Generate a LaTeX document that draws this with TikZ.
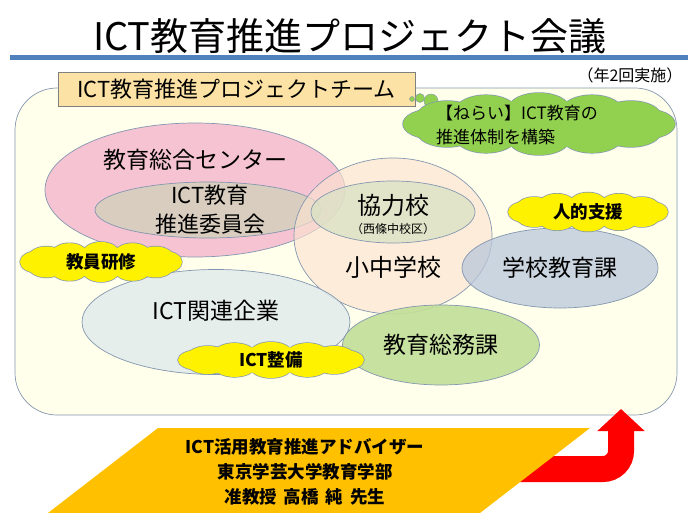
\documentclass[tikz,border=0pt]{standalone}
\usepackage{fontspec}
\setmainfont{Noto Sans CJK JP}
\usetikzlibrary{shapes.geometric,arrows.meta}

\definecolor{titleblue}{HTML}{4F81BD}
\definecolor{edgegray}{HTML}{8497B0}
\definecolor{fieldfill}{HTML}{FFFFEB}
\definecolor{labelorange}{HTML}{FCE2A4}
\definecolor{aimgreen}{HTML}{92D050}
\definecolor{centerpink}{HTML}{F6C3D3}
\definecolor{committeetan}{HTML}{D8CDBF}
\definecolor{schoolpeach}{HTML}{FBE3D0}
\definecolor{partnergreen}{HTML}{D9E2C4}
\definecolor{sectionblue}{HTML}{BAC7DB}
\definecolor{companyblue}{HTML}{E2ECEC}
\definecolor{affairsgreen}{HTML}{C2DF98}
\definecolor{advorange}{HTML}{FFC000}

% puffs round a centre: centre, a, b, x radius, y radius, angles, colour
\newcommand\cloudpuffs[7]{%
  \foreach \t in {#6}
    \draw [edgegray, line width=1.4pt] (#1) ++(\t:#2 and #3) ellipse [x radius=#4, y radius=#5];
  \foreach \t in {#6}
    \fill [#7] (#1) ++(\t:#2 and #3) ellipse [x radius=#4, y radius=#5];
  \fill [#7] (#1) ellipse [x radius=#2, y radius=#3+#5/2];
}

\tikzset{
  group/.style={ellipse, draw=edgegray, line width=0.7pt, inner sep=0pt,
    fill opacity=0.75, text opacity=1, align=center,
    font=\fontsize{23}{29}\selectfont},
  pufftext/.style={font=\bfseries\fontsize{17.5}{20}\selectfont},
  bubble/.style={circle, draw=edgegray, fill=aimgreen, inner sep=0pt}
}

\begin{document}
\begin{tikzpicture}[x=1pt, y=-1pt]
  \useasboundingbox (0,0) rectangle (688,513);

  % title
  \node (title) at (350,36) {\fontsize{38}{40}\selectfont ICT教育推進プロジェクト会議};
  \draw [titleblue, line width=5pt] (10,58) -- (688,58);

  % project team field
  \node [draw=edgegray, fill=fieldfill, rounded corners=42pt, line width=0.7pt,
    minimum width=662, minimum height=327] (field) at (346,251.5) {};
  \node (times) at (630,75) {\fontsize{16}{18}\selectfont （年2回実施）};
  \node [draw=gray, fill=labelorange, minimum width=357, minimum height=34,
    font=\fontsize{22}{24}\selectfont] (team) at (236.5,89) {ICT教育推進プロジェクトチーム};

  % aim
  \node [bubble, minimum size=5] (b1) at (412,99) {};
  \node [bubble, minimum size=9] (b2) at (420,98) {};
  \node [bubble, minimum size=14] (b3) at (431,101) {};
  \coordinate (aimc) at (539,124);
  \cloudpuffs{aimc}{106}{16}{30}{15}{0,30,...,330}{aimgreen}
  \node [align=left, font=\fontsize{17}{24}\selectfont] (aim) at (517,125)
    {【ねらい】ICT教育の\\推進体制を構築};

  % groups
  \node [group, fill=centerpink, fill opacity=1, minimum width=300, minimum height=134] (center) at (195,190) {};
  \node [font=\fontsize{23}{25}\selectfont] (centertext) at (195,160) {教育総合センター};
  \node [group, fill=committeetan, fill opacity=1, minimum width=226, minimum height=56] (committee) at (208,210) {};
  \node [align=center, font=\fontsize{22}{29}\selectfont] (committeetext) at (210,210) {ICT教育\\推進委員会};
  \node [group, fill=schoolpeach, fill opacity=0.65, minimum width=198, minimum height=156] (school) at (393,236) {};
  \node [group, fill=partnergreen, minimum width=164, minimum height=62] (partner) at (393,212) {};
  \node [font=\fontsize{24}{26}\selectfont] (partnertext) at (393,205) {協力校};
  \node [font=\fontsize{12}{14}\selectfont] (partnersub) at (393,229) {（西條中校区）};
  \node [font=\fontsize{24}{26}\selectfont] (schooltext) at (393,267) {小中学校};
  \node [group, fill=sectionblue, minimum width=196, minimum height=80] (section) at (560,268) {学校教育課};
  \node [group, fill=companyblue, fill opacity=0.85, minimum width=268, minimum height=105] (company) at (216,322) {};
  \node [font=\fontsize{23}{25}\selectfont] (companytext) at (216,311) {ICT関連企業};
  \node [group, fill=affairsgreen, fill opacity=0.9, minimum width=197, minimum height=80] (affairs) at (441,345) {教育総務課};

  % supports
  \coordinate (staffc) at (588,212);
  \cloudpuffs{staffc}{62}{9}{18}{10.5}{0,30,...,330}{yellow}
  \node [pufftext] (staff) at (staffc) {人的支援};
  \coordinate (trainingc) at (101,262);
  \cloudpuffs{trainingc}{63}{9}{18}{11}{0,30,...,330}{yellow}
  \node [pufftext] (training) at (trainingc) {教員研修};
  \coordinate (equipc) at (271,360);
  \cloudpuffs{equipc}{73}{8}{20}{10}{0,30,...,330}{yellow}
  \node [pufftext] (equip) at (equipc) {ICT整備};

  % adviser
  \coordinate (from) at (500,469);
  \coordinate (tip) at (621,409);
  \draw [red, line width=26pt, rounded corners=18pt,
    -{Triangle[length=22pt, width=46pt]}] (from) -| (tip);
  \fill [advorange] (158,428) -- (590,428) -- (458,530) -- (26,530) -- cycle;
  \node [align=center, font=\bfseries\fontsize{17.5}{25}\selectfont] (adv) at (305,472)
    {ICT活用教育推進アドバイザー\\東京学芸大学教育学部\\准教授\hspace{0.4em}高橋\hspace{0.4em}純\hspace{0.4em}先生};
\end{tikzpicture}
\end{document}
